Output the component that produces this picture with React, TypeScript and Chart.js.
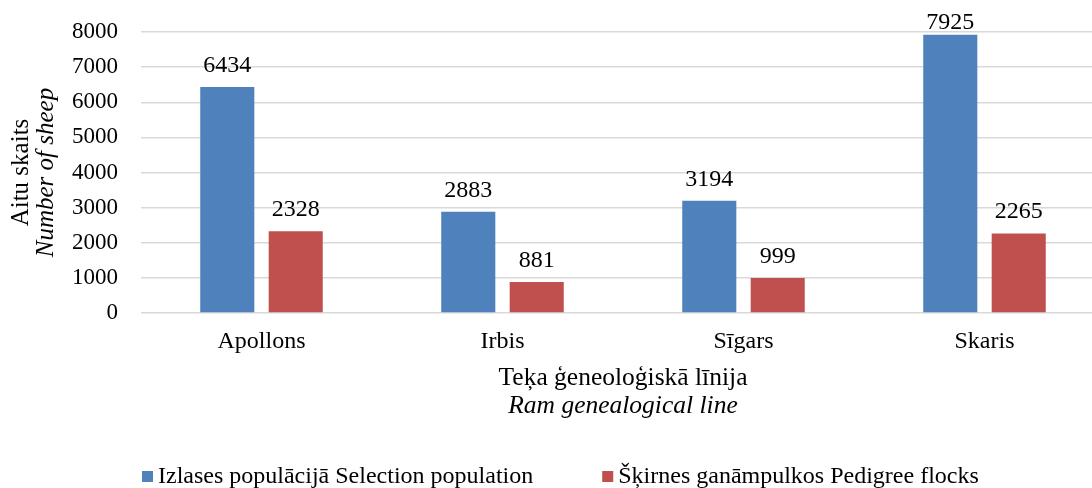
import React, { useEffect, useRef } from "react";
import { Chart, registerables } from "chart.js";

Chart.register(...registerables);

const categories = ["Apollons", "Irbis", "Sīgars", "Skaris"];
const selectionValues = [6434, 2883, 3194, 7925];
const pedigreeValues = [2328, 881, 999, 2265];
const seriesLabels = [
  "Izlases populācijā Selection population",
  "Šķirnes ganāmpulkos Pedigree flocks",
];
const seriesColors = ["#4F81BD", "#C0504D"];
const yMin = 0;
const yMax = 8000;
const yStep = 1000;
const yTitleLines = ["Aitu skaits", "Number of sheep"];
const xTitleLines = ["Teķa ģeneoloģiskā līnija", "Ram genealogical line"];

const FONT = "'Liberation Serif', 'Times New Roman', serif";
const PLOT_OVERFLOW_RIGHT = 13;

const extendRightPlugin = {
  id: "extendRight",
  afterLayout(chart: any) {
    const extra = PLOT_OVERFLOW_RIGHT;
    chart.chartArea.right += extra;
    chart.chartArea.width += extra;
    const xs = chart.scales.x;
    xs.right += extra;
    xs.width += extra;
    xs.configure();
  },
};

const dataLabelPlugin = {
  id: "dataLabels",
  afterDatasetsDraw(chart: any) {
    const ctx = chart.ctx;
    const area = chart.chartArea;
    ctx.save();
    ctx.font = `24px ${FONT}`;
    ctx.fillStyle = "#000";
    ctx.textAlign = "center";
    ctx.textBaseline = "alphabetic";
    chart.data.datasets.forEach((ds: any, di: number) => {
      const meta = chart.getDatasetMeta(di);
      meta.data.forEach((bar: any, i: number) => {
        const y = Math.max(bar.y - 15, area.top - 3);
        ctx.fillText(String(ds.data[i]), bar.x, y);
      });
    });
    ctx.restore();
  },
};

const titlesPlugin = {
  id: "titles",
  afterDraw(chart: any) {
    const ctx = chart.ctx;
    const area = chart.chartArea;
    ctx.save();
    ctx.fillStyle = "#000";
    ctx.textAlign = "center";
    ctx.textBaseline = "alphabetic";
    const cy = (area.top + area.bottom) / 2;
    ctx.save();
    ctx.translate(28, cy);
    ctx.rotate(-Math.PI / 2);
    ctx.font = `25px ${FONT}`;
    ctx.fillText(yTitleLines[0], 0, 0);
    ctx.restore();
    ctx.save();
    ctx.translate(53, cy);
    ctx.rotate(-Math.PI / 2);
    ctx.font = `italic 25px ${FONT}`;
    ctx.fillText(yTitleLines[1], 0, 0);
    ctx.restore();
    const cx = (area.left + area.right) / 2;
    ctx.font = `25.5px ${FONT}`;
    ctx.fillText(xTitleLines[0], cx, 385);
    ctx.font = `italic 25.5px ${FONT}`;
    ctx.fillText(xTitleLines[1], cx, 413);
    ctx.restore();
  },
};

const legendPlugin = {
  id: "customLegend",
  afterDraw(chart: any) {
    const ctx = chart.ctx;
    ctx.save();
    ctx.font = `24px ${FONT}`;
    ctx.textAlign = "left";
    ctx.textBaseline = "alphabetic";
    let x = 142;
    const baseline = 483;
    chart.data.datasets.forEach((ds: any) => {
      ctx.fillStyle = ds.backgroundColor;
      ctx.fillRect(x, 471, 11, 11);
      ctx.fillStyle = "#000";
      ctx.fillText(ds.label, x + 16, baseline);
      const w = ctx.measureText(ds.label).width;
      x = x + 16 + w + 69;
    });
    ctx.restore();
  },
};

export default function App() {
  const canvasRef = useRef<HTMLCanvasElement>(null);

  useEffect(() => {
    const canvas = canvasRef.current;
    if (!canvas) return;
    const chart = new Chart(canvas, {
      type: "bar",
      data: {
        labels: categories,
        datasets: [
          {
            label: seriesLabels[0],
            data: selectionValues,
            backgroundColor: seriesColors[0],
            categoryPercentage: 0.568,
            barPercentage: 0.79,
          },
          {
            label: seriesLabels[1],
            data: pedigreeValues,
            backgroundColor: seriesColors[1],
            categoryPercentage: 0.568,
            barPercentage: 0.79,
          },
        ],
      },
      options: {
        responsive: false,
        animation: false,
        devicePixelRatio: 1,
        layout: {
          padding: { left: 0, right: 0, top: 32, bottom: 115 },
        },
        plugins: {
          legend: { display: false },
          tooltip: { enabled: false },
          title: { display: false },
        },
        scales: {
          x: {
            grid: { display: false },
            border: { display: false },
            ticks: {
              color: "#000",
              font: { family: FONT, size: 24 },
              padding: 6,
            },
            afterFit(scale: any) {
              scale.height = 60;
              scale.paddingLeft = 0;
              scale.paddingRight = 0;
            },
          },
          y: {
            min: yMin,
            max: yMax,
            grid: { color: "#d9d9d9", lineWidth: 1.5, drawTicks: false },
            border: { display: false },
            ticks: {
              stepSize: yStep,
              color: "#000",
              font: { family: FONT, size: 23 },
              padding: 23,
              callback: (v: any) => String(v),
            },
            afterFit(scale: any) {
              scale.width = 141;
              scale.paddingTop = 0;
              scale.paddingBottom = 0;
            },
          },
        },
      },
      plugins: [extendRightPlugin, dataLabelPlugin, titlesPlugin, legendPlugin],
    });
    return () => chart.destroy();
  }, []);

  return (
    <div style={{ position: "fixed", left: 0, top: 0, width: 1092, height: 488, background: "#fff" }}>
      <canvas ref={canvasRef} width={1092} height={488} style={{ display: "block" }} />
    </div>
  );
}
